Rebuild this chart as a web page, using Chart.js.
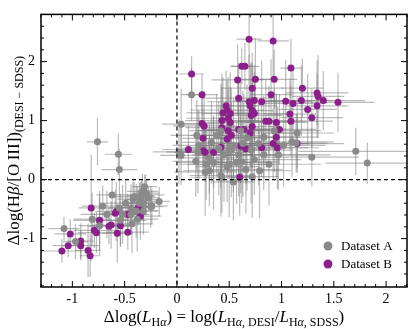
<!DOCTYPE html>
<html>
<head>
<meta charset="utf-8">
<script src="https://cdn.jsdelivr.net/npm/chart.js@4.4.1/dist/chart.umd.min.js"></script>
<style>
  html, body { margin: 0; padding: 0; background: #fff; }
  #wrap { width: 413px; height: 329px; position: relative; }
</style>
</head>
<body>
<div id="wrap"><canvas id="cv"></canvas></div>
<script>
// tick labels
var xTicks = [-1, -0.5, 0, 0.5, 1, 1.5, 2];
var yTicks = [-1, 0, 1, 2];

// Dataset A (gray)
var aX = [0.04,0.14,0.02,0.04,0.18,0.20,-0.76,-0.56,-0.55,1.15,1.14,1.71,1.82,1.29,0.83,1.10,0.79,0.31,0.42,0.54,0.66,0.72,0.43,0.33,0.40,0.31,0.50,0.62,0.28,0.45,0.59,0.74,0.54,0.67,0.38,0.48,0.35,0.57,0.71,0.83,0.88,0.21,0.27,0.52,0.63,0.78,0.97,1.02,0.42,0.19,0.61,0.93,
  -1.08,-0.97,-0.71,-0.62,-0.81,-0.74,-0.42,-0.31,-0.17,-0.24,-0.30,-0.41,-0.35,-0.25,-0.44,-0.32,-0.38,-0.54,-0.32,-0.43,-0.29,-0.33,-0.27,-0.36,-0.39,-0.49,-0.52,-0.44,-0.55,-0.67,-0.34];
var aY = [0.94,1.44,0.47,0.41,0.31,0.47,0.64,0.43,0.17,0.79,0.62,0.48,0.28,0.38,0.72,0.64,0.15,0.15,0.07,-0.04,0.17,0.05,0.04,0.63,0.53,0.37,0.26,0.30,0.26,0.42,0.42,0.34,0.58,0.71,0.75,0.22,0.29,0.29,0.50,0.42,0.26,0.58,0.13,0.50,0.61,0.61,0.42,0.58,0.83,0.75,0.83,0.83,
  -0.83,-1.05,-0.45,-0.26,-0.67,-0.78,-0.33,-0.12,-0.37,-0.45,-0.26,-0.29,-0.34,-0.46,-0.48,-0.40,-0.67,-0.69,-0.53,-0.75,-0.23,-0.20,-0.31,-0.40,-0.53,-0.40,-0.59,-0.59,-0.48,-0.59,-0.27];
var aXErr = [0.18,0.10,0.25,0.20,0.22,0.30,0.10,0.13,0.17,0.35,0.30,0.55,0.40,0.45,0.35,0.40,0.30,0.25,0.30,0.20,0.35,0.25,0.30,0.28,0.35,0.30,0.40,0.35,0.25,0.30,0.40,0.45,0.35,0.30,0.25,0.30,0.35,0.30,0.40,0.45,0.50,0.25,0.30,0.35,0.40,0.45,0.50,0.40,0.30,0.25,0.35,0.45,
  0.15,0.12,0.20,0.15,0.18,0.20,0.15,0.12,0.10,0.15,0.18,0.20,0.15,0.12,0.22,0.15,0.20,0.25,0.15,0.20,0.12,0.15,0.10,0.18,0.20,0.25,0.22,0.18,0.20,0.25,0.12];
var aYErr = [0.60,0.45,0.55,0.50,0.60,0.70,0.40,0.35,0.35,0.60,0.50,0.40,0.35,0.50,0.70,0.60,0.80,0.60,0.70,0.65,0.75,0.70,0.60,0.70,0.80,0.60,0.90,0.70,0.60,0.80,0.70,0.60,0.80,0.90,0.70,0.60,0.80,0.70,0.90,0.60,0.70,0.60,0.75,0.80,0.90,0.70,0.60,0.70,0.80,0.60,0.90,0.70,
  0.20,0.30,0.35,0.30,0.45,0.50,0.30,0.20,0.25,0.30,0.35,0.25,0.30,0.35,0.40,0.30,0.55,0.45,0.40,0.50,0.25,0.30,0.20,0.35,0.45,0.40,0.50,0.35,0.30,0.40,0.25];

// Dataset B (purple)
var bX = [0.69,0.92,0.62,0.65,1.09,0.58,0.75,0.93,0.72,1.20,0.24,0.90,1.34,1.35,0.59,1.40,1.19,1.54,1.04,1.11,0.69,0.74,0.81,0.47,0.48,0.70,1.34,1.25,0.72,0.74,0.44,0.51,0.71,1.08,0.49,1.29,0.43,0.51,0.85,0.88,0.95,1.09,0.24,0.26,0.43,0.59,0.64,0.72,0.98,0.49,0.70,0.52,0.48,0.25,0.95,1.15,0.92,0.42,0.61,0.66,0.81,0.96,0.25,0.27,0.35,0.14,0.11,0.60,
  -0.82,-0.59,-0.58,-0.47,-0.37,-0.35,-0.74,-0.65,-0.63,-0.54,-0.79,-0.77,-0.57,-0.47,-1.02,-0.92,-1.04,-0.92,-0.85,-1.10,-0.83];
var bY = [2.38,2.35,1.92,1.92,1.89,1.69,1.70,1.70,1.55,1.55,1.44,1.44,1.47,1.41,1.38,1.34,1.34,1.31,1.33,1.29,1.32,1.34,1.32,1.25,1.18,1.25,1.25,1.19,1.17,1.12,1.13,1.12,1.09,1.11,1.04,1.05,1.00,0.97,0.99,0.99,0.97,0.99,0.95,0.91,0.88,0.85,0.85,0.90,0.85,0.83,0.79,0.75,0.69,0.70,0.72,0.61,0.61,0.55,0.57,0.52,0.54,0.54,0.49,0.46,0.46,1.79,0.51,0.04,
  -0.48,-0.57,-0.54,-0.59,-0.47,-0.62,-0.69,-0.79,-0.77,-0.78,-0.86,-0.90,-0.91,-0.89,-0.92,-1.04,-1.12,-1.12,-1.20,-1.21,-1.29];
var bXErr = [0.12,0.15,0.10,0.14,0.10,0.25,0.18,0.22,0.30,0.20,0.15,0.20,0.30,0.25,0.35,0.40,0.30,0.35,0.25,0.30,0.40,0.20,0.25,0.30,0.35,0.25,0.30,0.28,0.20,0.30,0.35,0.25,0.30,0.25,0.40,0.30,0.35,0.30,0.25,0.35,0.30,0.40,0.20,0.30,0.35,0.30,0.40,0.25,0.35,0.30,0.45,0.35,0.30,0.20,0.40,0.45,0.35,0.30,0.40,0.35,0.45,0.40,0.25,0.30,0.30,0.12,0.25,0.10,
  0.12,0.15,0.20,0.18,0.15,0.20,0.25,0.20,0.18,0.15,0.20,0.18,0.15,0.20,0.15,0.12,0.15,0.18,0.12,0.20,0.10];
var bYErr = [0.50,0.60,0.30,0.40,0.50,0.60,0.70,0.50,0.60,0.50,0.35,0.60,0.55,0.70,0.60,0.50,0.60,0.50,0.70,0.60,0.80,0.60,0.70,0.60,0.50,0.70,0.55,0.60,0.80,0.70,0.60,0.70,0.90,0.60,0.70,0.50,0.80,0.60,0.70,0.60,0.50,0.60,0.50,0.60,0.70,0.80,0.60,0.70,0.60,0.70,0.60,0.80,0.60,0.50,0.70,0.50,0.60,0.70,0.80,0.60,0.50,0.70,0.40,0.50,0.60,0.30,0.40,0.65,
  0.90,0.40,0.50,0.35,0.30,0.40,0.50,0.30,0.40,0.35,0.30,0.35,0.50,0.30,0.25,0.30,0.20,0.25,0.45,0.20,0.36];

var grayCol = '#8a8a8a';
var purpleCol = '#8c1f8c';
var serif = '"Liberation Serif", "DejaVu Serif", serif';

function pts(xs, ys) {
  return xs.map(function(x, i) { return { x: x, y: ys[i] }; });
}

// error bars, drawn under the markers
var errorBars = {
  id: 'errorBars',
  beforeDatasetsDraw: function(chart) {
    var ctx = chart.ctx, xs = chart.scales.x, ys = chart.scales.y, ca = chart.chartArea;
    ctx.save();
    ctx.beginPath();
    ctx.rect(ca.left, ca.top, ca.right - ca.left, ca.bottom - ca.top);
    ctx.clip();
    ctx.strokeStyle = 'rgba(120,120,120,0.5)';
    ctx.lineWidth = 1.2;
    [[aX, aY, aXErr, aYErr], [bX, bY, bXErr, bYErr]].forEach(function(s) {
      for (var i = 0; i < s[0].length; i++) {
        var x = s[0][i], y = s[1][i], ex = s[2][i] || 0, ey = s[3][i] || 0;
        var px = xs.getPixelForValue(x), py = ys.getPixelForValue(y);
        ctx.beginPath();
        ctx.moveTo(xs.getPixelForValue(x - ex), py);
        ctx.lineTo(xs.getPixelForValue(x + ex), py);
        ctx.moveTo(px, ys.getPixelForValue(y - ey));
        ctx.lineTo(px, ys.getPixelForValue(y + ey));
        ctx.stroke();
      }
    });
    ctx.restore();
  }
};

// draw a run of [text, size, italic, dy] pieces starting at x
function drawRuns(ctx, runs, x, y) {
  runs.forEach(function(r) {
    ctx.font = (r[2] ? 'italic ' : '') + r[1] + 'px ' + serif;
    ctx.fillText(r[0], x, y + (r[3] || 0));
    x += ctx.measureText(r[0]).width;
  });
}
function runsWidth(ctx, runs) {
  var w = 0;
  runs.forEach(function(r) {
    ctx.font = (r[2] ? 'italic ' : '') + r[1] + 'px ' + serif;
    w += ctx.measureText(r[0]).width;
  });
  return w;
}

var frame = {
  id: 'frame',
  afterDatasetsDraw: function(chart) {
    var ctx = chart.ctx, xs = chart.scales.x, ys = chart.scales.y, ca = chart.chartArea;
    ctx.save();
    // dashed zero lines
    ctx.strokeStyle = '#000';
    ctx.lineWidth = 1.2;
    ctx.setLineDash([4, 3]);
    var x0 = xs.getPixelForValue(0), y0 = ys.getPixelForValue(0);
    ctx.beginPath();
    ctx.moveTo(x0, ca.top); ctx.lineTo(x0, ca.bottom);
    ctx.moveTo(ca.left, y0); ctx.lineTo(ca.right, y0);
    ctx.stroke();
    ctx.setLineDash([]);

    // inward ticks on all sides
    ctx.lineWidth = 1;
    ctx.beginPath();
    for (var k = -13; k <= 22; k++) {
      var v = k / 10, p = xs.getPixelForValue(v);
      if (p < ca.left || p > ca.right) continue;
      var len = (k % 5 === 0) ? 6 : 3;
      ctx.moveTo(p, ca.bottom); ctx.lineTo(p, ca.bottom - len);
      ctx.moveTo(p, ca.top); ctx.lineTo(p, ca.top + len);
    }
    for (var j = -9; j <= 14; j++) {
      var vy = j / 5, q = ys.getPixelForValue(vy);
      if (q < ca.top || q > ca.bottom) continue;
      var ly = (j % 5 === 0) ? 6 : 3;
      ctx.moveTo(ca.left, q); ctx.lineTo(ca.left + ly, q);
      ctx.moveTo(ca.right, q); ctx.lineTo(ca.right - ly, q);
    }
    ctx.stroke();

    // frame
    ctx.lineWidth = 1.5;
    ctx.strokeRect(ca.left, ca.top, ca.right - ca.left, ca.bottom - ca.top);

    // legend
    var items = [['Dataset A', grayCol], ['Dataset B', purpleCol]];
    items.forEach(function(it, i) {
      var ly2 = 246 + i * 18;
      ctx.fillStyle = it[1];
      ctx.beginPath(); ctx.arc(328, ly2, 4.5, 0, Math.PI * 2); ctx.fill();
      ctx.fillStyle = '#000';
      ctx.font = '13px ' + serif;
      ctx.textBaseline = 'middle';
      ctx.textAlign = 'left';
      ctx.fillText(it[0], 341, ly2 + 1);
    });

    // axis titles
    ctx.fillStyle = '#000';
    ctx.textBaseline = 'alphabetic';
    ctx.textAlign = 'left';
    var M = 17, S = 12, d = 4;
    var xRuns = [['\u0394log(', M], ['L', M, true], ['H', S, false, d], ['\u03b1', S, true, d], [')', M],
      [' = log(', M], ['L', M, true], ['H', S, false, d], ['\u03b1', S, true, d], [', DESI', S, false, d],
      ['/', M], ['L', M, true], ['H', S, false, d], ['\u03b1', S, true, d], [', SDSS', S, false, d], [')', M]];
    var wx = runsWidth(ctx, xRuns);
    drawRuns(ctx, xRuns, (ca.left + ca.right) / 2 - wx / 2, 322);

    var yRuns = [['\u0394log(H', M], ['\u03b2', M, true], ['/[O\u2009III])', M], ['(DESI \u2212 SDSS)', S, false, d]];
    var wy = runsWidth(ctx, yRuns);
    ctx.translate(19, (ca.top + ca.bottom) / 2);
    ctx.rotate(-Math.PI / 2);
    drawRuns(ctx, yRuns, -wy / 2, 0);
    ctx.restore();
  }
};

new Chart(document.getElementById('cv'), {
  type: 'scatter',
  data: {
    datasets: [
      { label: 'Dataset A', data: pts(aX, aY), backgroundColor: grayCol, borderWidth: 0, pointRadius: 3.5, pointHoverRadius: 3.5 },
      { label: 'Dataset B', data: pts(bX, bY), backgroundColor: purpleCol, borderWidth: 0, pointRadius: 3.5, pointHoverRadius: 3.5 }
    ]
  },
  options: {
    responsive: true,
    maintainAspectRatio: false,
    devicePixelRatio: 1,
    animation: false,
    events: [],
    layout: { padding: { left: 0, top: 4, right: 6, bottom: 0 } },
    plugins: { legend: { display: false }, tooltip: { enabled: false } },
    scales: {
      x: {
        type: 'linear', min: -1.3, max: 2.2,
        grid: { display: false, drawTicks: false },
        border: { display: false },
        afterBuildTicks: function(s) { s.ticks = xTicks.map(function(v) { return { value: v }; }); },
        afterFit: function(s) { s.height = 42; },
        ticks: { color: '#000', font: { family: serif, size: 14 }, padding: 4, maxRotation: 0,
          callback: function(v) { return String(v); } }
      },
      y: {
        type: 'linear', min: -1.82, max: 2.8,
        grid: { display: false, drawTicks: false },
        border: { display: false },
        afterBuildTicks: function(s) { s.ticks = yTicks.map(function(v) { return { value: v }; }); },
        afterFit: function(s) { s.width = 41; },
        ticks: { color: '#000', font: { family: serif, size: 14 }, padding: 6,
          callback: function(v) { return String(v); } }
      }
    }
  },
  plugins: [errorBars, frame]
});
</script>
</body>
</html>
